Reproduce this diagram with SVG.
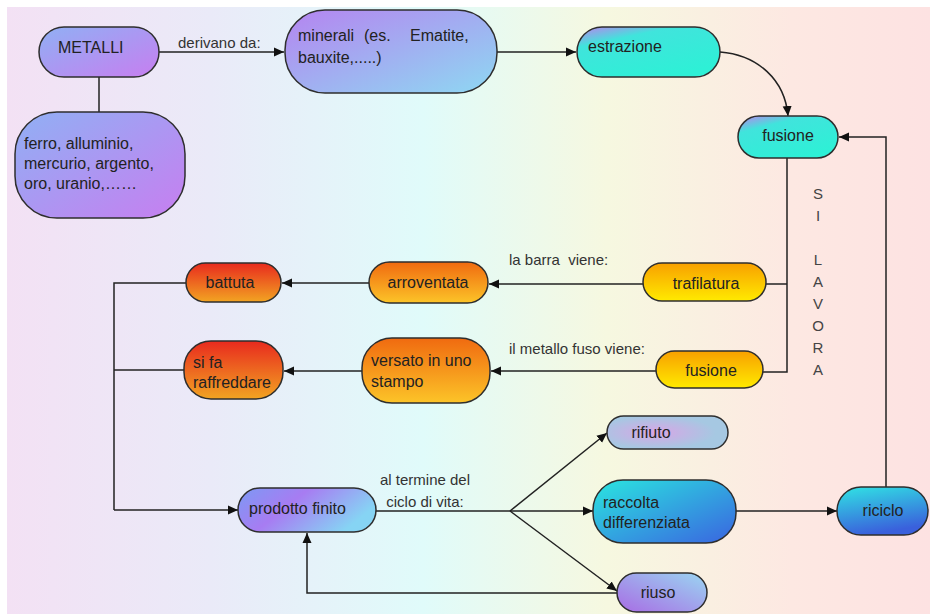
<svg xmlns="http://www.w3.org/2000/svg" width="930" height="614" viewBox="0 0 930 614">
<defs>
<linearGradient id="bg" x1="0" y1="0" x2="1" y2="0">
<stop offset="0" stop-color="#f3e1f4"/>
<stop offset="0.22" stop-color="#eaeaf8"/>
<stop offset="0.45" stop-color="#e0fbfa"/>
<stop offset="0.65" stop-color="#f6f8e0"/>
<stop offset="0.85" stop-color="#fde8e2"/>
<stop offset="1" stop-color="#fde2e2"/>
</linearGradient>
<linearGradient id="gBlueViolet" x1="0" y1="0" x2="1" y2="1">
<stop offset="0" stop-color="#90b0f4"/>
<stop offset="1" stop-color="#c77ef0"/>
</linearGradient>
<linearGradient id="gVioletBlue" x1="0" y1="0" x2="1" y2="1">
<stop offset="0" stop-color="#b584f0"/>
<stop offset="1" stop-color="#8ed8f2"/>
</linearGradient>
<linearGradient id="gCyan" x1="0" y1="0" x2="0.6" y2="1">
<stop offset="0" stop-color="#c080ee"/>
<stop offset="0.3" stop-color="#40e4dc"/>
<stop offset="1" stop-color="#2ef0d6"/>
</linearGradient>
<linearGradient id="gYellow" x1="0" y1="0" x2="0" y2="1">
<stop offset="0" stop-color="#f8a000"/>
<stop offset="1" stop-color="#ffea00"/>
</linearGradient>
<linearGradient id="gOrange" x1="0" y1="0" x2="0" y2="1">
<stop offset="0" stop-color="#f06a10"/>
<stop offset="1" stop-color="#fcc428"/>
</linearGradient>
<linearGradient id="gRed" x1="0" y1="0" x2="0" y2="1">
<stop offset="0" stop-color="#e82a1e"/>
<stop offset="1" stop-color="#f2a422"/>
</linearGradient>
<linearGradient id="gProd" x1="0" y1="0" x2="1" y2="0.4">
<stop offset="0" stop-color="#7c9af4"/>
<stop offset="0.45" stop-color="#a77cf2"/>
<stop offset="1" stop-color="#86d4f4"/>
</linearGradient>
<radialGradient id="gRifiuto" cx="0.4" cy="0.5" r="0.5">
<stop offset="0" stop-color="#d8a6e6"/>
<stop offset="1" stop-color="#a6c8e2"/>
</radialGradient>
<linearGradient id="gBlue" x1="0" y1="0" x2="1" y2="1">
<stop offset="0" stop-color="#2ae6e0"/>
<stop offset="1" stop-color="#3a64e0"/>
</linearGradient>
<linearGradient id="gRiciclo" x1="0" y1="0" x2="0.3" y2="1">
<stop offset="0" stop-color="#30e4e4"/>
<stop offset="1" stop-color="#3a60dc"/>
</linearGradient>
<linearGradient id="gRiuso" x1="0" y1="1" x2="1" y2="0">
<stop offset="0" stop-color="#a86ce4"/>
<stop offset="1" stop-color="#9ad6f2"/>
</linearGradient>
<marker id="arr" viewBox="0 0 10 10" refX="10" refY="5" markerWidth="10" markerHeight="10" markerUnits="userSpaceOnUse" orient="auto">
<path d="M0,0.5 L10,5 L0,9.5 Z" fill="#111"/>
</marker>
</defs>
<style>
.n{stroke:#2e2e2e;stroke-width:1.5}
.t{font-family:"Liberation Sans",Arial,sans-serif;font-size:16px;fill:#222}
.c{text-anchor:middle}
.l{font-family:"Liberation Sans",Arial,sans-serif;font-size:15px;fill:#333}
.e{fill:none;stroke:#222;stroke-width:1.5}
.v{font-family:"Liberation Sans",Arial,sans-serif;font-size:15px;fill:#444;text-anchor:middle}
</style>
<rect x="0" y="0" width="930" height="614" fill="#ffffff"/>
<rect x="7" y="7" width="923" height="607" fill="url(#bg)"/>

<g id="connectors">
<line class="e" x1="99" y1="77" x2="99" y2="112"/>
<line class="e" x1="159" y1="52" x2="284" y2="52" marker-end="url(#arr)"/>
<line class="e" x1="497" y1="52" x2="576" y2="52" marker-end="url(#arr)"/>
<path class="e" d="M720,52 C758,55 785,80 788,116" marker-end="url(#arr)"/>
<polyline class="e" points="787,158 787,372 763,372"/>
<line class="e" x1="766" y1="284" x2="787" y2="284"/>
<line class="e" x1="643" y1="284" x2="489" y2="284" marker-end="url(#arr)"/>
<line class="e" x1="656" y1="371" x2="491" y2="371" marker-end="url(#arr)"/>
<line class="e" x1="369" y1="283" x2="282" y2="283" marker-end="url(#arr)"/>
<line class="e" x1="362" y1="371" x2="284" y2="371" marker-end="url(#arr)"/>
<polyline class="e" points="186,283 114,283 114,510"/>
<line class="e" x1="184" y1="370" x2="114" y2="370"/>
<line class="e" x1="114" y1="510" x2="238" y2="510" marker-end="url(#arr)"/>
<line class="e" x1="376" y1="511" x2="510" y2="511"/>
<line class="e" x1="510" y1="511" x2="607" y2="433" marker-end="url(#arr)"/>
<line class="e" x1="510" y1="511" x2="593" y2="511" marker-end="url(#arr)"/>
<line class="e" x1="510" y1="511" x2="617" y2="591" marker-end="url(#arr)"/>
<polyline class="e" points="617,593 307,593 307,533" marker-end="url(#arr)"/>
<line class="e" x1="736" y1="511" x2="837" y2="511" marker-end="url(#arr)"/>
<polyline class="e" points="886,487 886,137 839,137" marker-end="url(#arr)"/>
<text class="l" x="178" y="48">derivano da:</text>
<text class="l" x="509" y="265" xml:space="preserve">la barra  viene:</text>
<text class="l" x="509" y="354">il metallo fuso viene:</text>
<text class="l c" x="425" y="485">al termine del</text>
<text class="l c" x="425" y="507">ciclo di vita:</text>
<text class="v" x="818" y="199">S</text>
<text class="v" x="818" y="221">I</text>
<text class="v" x="818" y="265">L</text>
<text class="v" x="818" y="287">A</text>
<text class="v" x="818" y="309">V</text>
<text class="v" x="818" y="331">O</text>
<text class="v" x="818" y="353">R</text>
<text class="v" x="818" y="375">A</text>
</g>

<g id="metalli">
<rect class="n" x="39" y="27" width="120" height="50" rx="25" fill="url(#gBlueViolet)"/>
<text class="t" x="58" y="53">METALLI</text>
</g>
<g id="ferro">
<rect class="n" x="15" y="112" width="170" height="106" rx="42" fill="url(#gBlueViolet)"/>
<text class="t" x="24" y="149">ferro, alluminio,</text>
<text class="t" x="24" y="169">mercurio, argento,</text>
<text class="t" x="24" y="189">oro, uranio,……</text>
</g>
<g id="minerali">
<rect class="n" x="285" y="10" width="212" height="83" rx="40" fill="url(#gVioletBlue)"/>
<text class="t" x="298" y="41">minerali</text>
<text class="t" x="364" y="41">(es.</text>
<text class="t" x="410" y="41">Ematite,</text>
<text class="t" x="298" y="63">bauxite,.....)</text>
</g>
<g id="estrazione">
<rect class="n" x="577" y="27" width="143" height="50" rx="25" fill="url(#gCyan)"/>
<text class="t" x="588" y="52">estrazione</text>
</g>
<g id="fusione1">
<rect class="n" x="738" y="116" width="100" height="42" rx="21" fill="url(#gCyan)"/>
<text class="t c" x="788" y="141">fusione</text>
</g>
<g id="trafilatura">
<rect class="n" x="643" y="263" width="123" height="38" rx="19" fill="url(#gYellow)"/>
<text class="t c" x="706" y="289">trafilatura</text>
</g>
<g id="fusione2">
<rect class="n" x="656" y="351" width="107" height="37" rx="18.5" fill="url(#gYellow)"/>
<text class="t c" x="711" y="376">fusione</text>
</g>
<g id="arroventata">
<rect class="n" x="369" y="262" width="119" height="41" rx="20.5" fill="url(#gOrange)"/>
<text class="t c" x="428" y="288">arroventata</text>
</g>
<g id="versato">
<rect class="n" x="362" y="338" width="128" height="65" rx="30" fill="url(#gOrange)"/>
<text class="t" x="371" y="366">versato in uno</text>
<text class="t" x="371" y="387">stampo</text>
</g>
<g id="battuta">
<rect class="n" x="186" y="263" width="95" height="39" rx="19.5" fill="url(#gRed)"/>
<text class="t c" x="230" y="288">battuta</text>
</g>
<g id="raffreddare">
<rect class="n" x="184" y="341" width="99" height="58" rx="27" fill="url(#gRed)"/>
<text class="t" x="193" y="368">si fa</text>
<text class="t" x="193" y="388">raffreddare</text>
</g>
<g id="prodotto">
<rect class="n" x="238" y="488" width="138" height="44" rx="22" fill="url(#gProd)"/>
<text class="t" x="249" y="514">prodotto finito</text>
</g>
<g id="rifiuto">
<rect class="n" x="607" y="416" width="121" height="33" rx="16.5" fill="url(#gRifiuto)"/>
<text class="t c" x="651" y="438">rifiuto</text>
</g>
<g id="raccolta">
<rect class="n" x="593" y="480" width="143" height="63" rx="30" fill="url(#gBlue)"/>
<text class="t" x="603" y="508">raccolta</text>
<text class="t" x="603" y="528">differenziata</text>
</g>
<g id="riuso">
<rect class="n" x="617" y="573" width="90" height="39" rx="19.5" fill="url(#gRiuso)"/>
<text class="t c" x="658" y="598">riuso</text>
</g>
<g id="riciclo">
<rect class="n" x="837" y="487" width="91" height="48" rx="24" fill="url(#gRiciclo)"/>
<text class="t c" x="883" y="516">riciclo</text>
</g>
</svg>
